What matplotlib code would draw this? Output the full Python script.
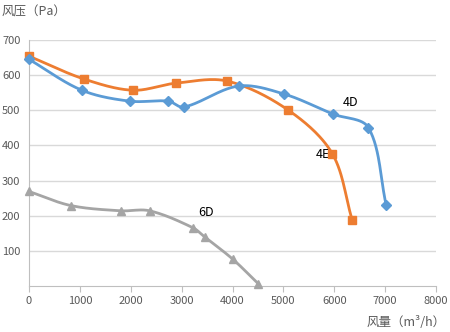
import matplotlib
matplotlib.use("Agg")
import matplotlib.pyplot as plt
import numpy as np

plt.rcParams['font.family'] = ['Noto Sans CJK SC', 'DejaVu Sans']

# 4D 曲线
x_4d = [0, 1040, 1980, 2740, 3040, 4120, 5020, 5980, 6670, 7020]
y_4d = [645, 557, 526, 526, 509, 569, 546, 489, 451, 231]
# 4E 曲线
x_4e = [0, 1080, 2040, 2880, 3900, 5100, 5960, 6350]
y_4e = [654, 589, 557, 577, 583, 500, 377, 189]
# 6D 曲线
x_6d = [0, 820, 1800, 2370, 3220, 3450, 4000, 4510]
y_6d = [269, 229, 214, 214, 166, 140, 77, 6]

xticks = [0, 1000, 2000, 3000, 4000, 5000, 6000, 7000, 8000]
yticks = [100, 200, 300, 400, 500, 600, 700]

sx = 407 / 8000.0
sy = 246 / 700.0


def smooth(xs, ys, n=30):
    # 平滑曲线, 控制点按相邻段长度加权 (像素比例)
    p = np.column_stack([np.array(xs) * sx, np.array(ys) * sy])
    p = np.vstack([p[0], p, p[-1]])
    out = []
    for i in range(1, len(p) - 2):
        p0, p1, p2, p3 = p[i - 1], p[i], p[i + 1], p[i + 2]
        d01 = np.linalg.norm(p1 - p0)
        d12 = np.linalg.norm(p2 - p1)
        d23 = np.linalg.norm(p3 - p2)
        w1 = d12 / (d01 + d12) if d01 + d12 > 0 else 0.5
        w2 = d12 / (d12 + d23) if d12 + d23 > 0 else 0.5
        c1 = p1 + (p2 - p0) * w1 / 3
        c2 = p2 - (p3 - p1) * w2 / 3
        t = np.linspace(0, 1, n)[:, None]
        b = (1 - t) ** 3 * p1 + 3 * (1 - t) ** 2 * t * c1 + 3 * (1 - t) * t ** 2 * c2 + t ** 3 * p2
        out.append(b)
    out = np.vstack(out)
    return out[:, 0] / sx, out[:, 1] / sy


fig = plt.figure(figsize=(4.5, 3.32), dpi=100)
ax = fig.add_axes([29 / 450, 46 / 332, 407 / 450, 246 / 332])

blue = '#5B9BD5'
orange = '#ED7D31'
gray = '#A5A5A5'

for xs, ys, c, m, ms in [(x_6d, y_6d, gray, '^', 6), (x_4e, y_4e, orange, 's', 6), (x_4d, y_4d, blue, 'D', 5)]:
    sxs, sys = smooth(xs, ys)
    ax.plot(sxs, sys, color=c, lw=2, clip_on=False, zorder=3)
    ax.plot(xs, ys, ls='none', marker=m, color=c, ms=ms, clip_on=False, zorder=4)

ax.set_xlim(0, 8000)
ax.set_ylim(0, 700)
ax.set_xticks(xticks)
ax.set_yticks(yticks)
ax.grid(axis='y', color='#D9D9D9', lw=1)
ax.set_axisbelow(True)
for s in ['top', 'right']:
    ax.spines[s].set_visible(False)
for s in ['left', 'bottom']:
    ax.spines[s].set_color('#BFBFBF')
ax.tick_params(axis='y', length=0, labelsize=8, labelcolor='#595959', pad=0)
ax.tick_params(axis='x', length=4, color='#BFBFBF', labelsize=8, labelcolor='#595959', pad=3)
for lbl in ax.get_yticklabels():
    lbl.set_horizontalalignment('left')
    lbl.set_x(-27 / 407)

ax.text(6170, 523, '4D', fontsize=9, color='black', ha='left', va='center')
ax.text(5640, 374, '4E', fontsize=9, color='black', ha='left', va='center', zorder=2)
ax.text(3330, 208, '6D', fontsize=9, color='black', ha='left', va='center')

fig.text(2 / 450, 1 - 12 / 332, '风压（Pa）', fontsize=9, color='#595959', va='center', ha='left')
fig.text(446 / 450, 1 - 322 / 332, '风量（m³/h）', fontsize=9, color='#595959', va='center', ha='right')

fig.savefig('out.png', dpi=100)
